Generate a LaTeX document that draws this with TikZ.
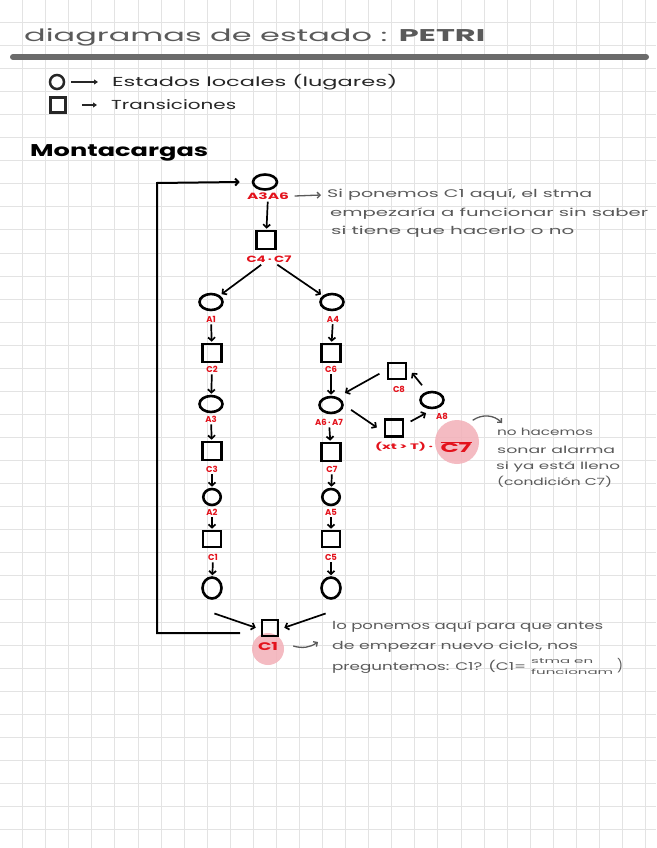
\documentclass[tikz,border=0pt]{standalone}
\usepackage{fontspec}
\setmainfont{Poppins}
\usepackage{graphicx}
\usetikzlibrary{arrows.meta,shapes.geometric}
\definecolor{gridc}{HTML}{E3E3E3}
\definecolor{ink}{HTML}{5A5A5A}
\definecolor{dark}{HTML}{262626}
\definecolor{redl}{HTML}{E3121C}
\definecolor{pinkh}{HTML}{F3B0B8}
\newcommand{\hw}[2]{\resizebox{#1}{\height}{#2}}
\begin{document}
\begin{tikzpicture}[x=1pt,y=-1pt,
  place/.style={draw, ellipse, line width=2.6, minimum width=23, minimum height=16, inner sep=0},
  trans/.style={draw, rectangle, line width=2.6, minimum width=19, minimum height=18, inner sep=0},
  lab/.style={text=redl, font=\bfseries\fontsize{8.5}{9}\selectfont, inner sep=0.5},
  arr/.style={-{Straight Barb[length=3.2pt,width=7pt]}, line width=1.7, shorten <=1.5, shorten >=1},
  garr/.style={ink, -{Straight Barb[length=3pt,width=6pt]}, line width=1.3},
  note/.style={text=ink, anchor=west, inner sep=0, font=\fontsize{11}{12}\selectfont},
  hl/.style={circle, fill=pinkh, fill opacity=0.85, inner sep=0}
]
\useasboundingbox (0,0) rectangle (656,848);
\fill[white] (0,0) rectangle (656,848);
% grid
\foreach \k in {0,...,27} \draw[gridc, line width=1] ({22.7+23.07*\k},0) -- ({22.7+23.07*\k},848);
\foreach \k in {0,...,35} \draw[gridc, line width=1] (0,{22.3+23.07*\k}) -- (656,{22.3+23.07*\k});

% title
\node[anchor=west, inner sep=0, text=ink] (title) at (24,37) {\hw{461pt}{\fontsize{17}{20}\selectfont diagramas de estado : \textbf{PETRI}}};
\coordinate (ulA) at (13,57);
\coordinate (ulB) at (646,57);
\draw[ink!90, line width=6, line cap=round] (ulA) -- (ulB);

% legend
\node[draw=dark, circle, line width=2.5, minimum size=14, inner sep=0] (lgc) at (57,82) {};
\node[draw=dark, rectangle, line width=2.5, minimum width=15, minimum height=15, inner sep=0] (lgs) at (58,105) {};
\node[anchor=west, inner sep=0, text=dark] (lgt1) at (112,82) {\hw{285pt}{\fontsize{13}{15}\selectfont Estados locales (lugares)}};
\node[anchor=west, inner sep=0, text=dark] (lgt2) at (111,105) {\hw{125pt}{\fontsize{13}{15}\selectfont Transiciones}};
\draw[dark, line width=1.6, -{Triangle[length=4pt,width=5pt]}, shorten <=6, shorten >=14] (lgc) -- (lgt1.west);
\draw[dark, line width=1.6, -{Triangle[length=4pt,width=5pt]}, shorten <=15, shorten >=14] (lgs) -- (lgs -| lgt2.west);

% section heading
\node[anchor=west, inner sep=0, text=black] (mont) at (30,153) {\hw{178pt}{\fontsize{17}{19}\selectfont\bfseries Montacargas}};

% top
\node[place, minimum width=24, minimum height=15] (p0) at (265,182) {};
\node[lab] (l0) at (268,196) {\hw{42pt}{\fontsize{9}{10}\selectfont\bfseries A3A6}};
\node[trans] (t0) at (266,240) {};
\node[lab] (lt0) at (269,259) {\hw{45pt}{\fontsize{9}{10}\selectfont\bfseries C4\,·\,C7}};
\draw[arr] (l0) -- (t0);

% left column
\node[place] (pL1) at (211,302) {};
\node[lab] (lL1) at (211,319) {A1};
\node[trans] (tL1) at (212,353) {};
\node[lab] (ltL1) at (212,369) {C2};
\node[place] (pL2) at (211,404) {};
\node[lab] (lL2) at (211,419) {A3};
\node[trans] (tL2) at (212,451) {};
\node[lab] (ltL2) at (212,469) {C3};
\node[place, minimum width=17.5, minimum height=16] (pL3) at (212,497) {};
\node[lab] (lL3) at (212,512) {A2};
\node[trans, minimum width=18, minimum height=16] (tL3) at (212,539) {};
\node[lab] (ltL3) at (213,557) {C1};
\node[place, minimum width=19, minimum height=21] (pL4) at (212,588) {};

% right column
\node[place] (pR1) at (332,302) {};
\node[lab] (lR1) at (333,319) {A4};
\node[trans] (tR1) at (331,353) {};
\node[lab] (ltR1) at (331,369) {C6};
\node[place] (pR2) at (331,405) {};
\node[lab] (lR2) at (329,422) {A6\,·\,A7};
\node[trans] (tR2) at (331,452) {};
\node[lab] (ltR2) at (332,469) {C7};
\node[place, minimum width=17.5, minimum height=16] (pR3) at (331,497) {};
\node[lab] (lR3) at (331,512) {A5};
\node[trans, minimum width=18, minimum height=16] (tR3) at (331,539) {};
\node[lab] (ltR3) at (331,557) {C5};
\node[place, minimum width=19, minimum height=21] (pR4) at (331,588) {};

% branch arrows
\draw[arr, shorten <=3, shorten >=2] (lt0) -- (pL1);
\draw[arr, shorten <=3, shorten >=2] (lt0) -- (pR1);
\foreach \a/\b in {lL1/tL1, ltL1/pL2, lL2/tL2, ltL2/pL3, lL3/tL3, ltL3/pL4,
                   lR1/tR1, ltR1/pR2, lR2/tR2, ltR2/pR3, lR3/tR3, ltR3/pR4}
  \draw[arr] (\a) -- (\b);

% bottom transition
\node[hl, minimum size=32] (hlC1) at (268,649) {};
\node[trans, minimum width=16, minimum height=16] (tB) at (270,628) {};
\node[text=redl, inner sep=0] (lB) at (268,647) {\hw{20pt}{\fontsize{11}{12}\selectfont\bfseries C1}};
\draw[arr] ([shift={(1,25)}]pL4.center) -- ([xshift=-4]tB.west);
\draw[arr] ([shift={(-4,25)}]pR4.center) -- ([xshift=4]tB.east);

% loop back
\coordinate (lp0) at (240,633);
\coordinate (lp1) at (157,633);
\coordinate (lp2) at (157,183);
\draw[line width=2, -{Straight Barb[length=3.2pt,width=7pt]}] (lp0) -- (lp1) -- (lp2) -- ([xshift=-12]p0.west);

% right cluster
\node[trans, minimum width=18, minimum height=16] (tC8) at (397,371) {};
\node[lab] (lC8) at (399,389) {C8};
\node[place] (pA8) at (432,400) {};
\node[lab] (lA8) at (442,416) {A8};
\node[trans, minimum width=18, minimum height=17] (tX) at (394,428) {};
\node[hl, minimum size=44] (hlC7) at (457,442) {};
\node[text=redl, inner sep=0] (lX) at (404,447) {\hw{58pt}{\fontsize{8}{9}\selectfont\bfseries (xt\,>\,T)\,·}};
\node[text=redl, inner sep=0] (lC7) at (456,447) {\hw{31pt}{\fontsize{13}{14}\selectfont\bfseries$\overline{\mbox{C7}}$}};
\draw[arr] ([shift={(-6,2)}]tC8.west) -- ([shift={(4,-5)}]pR2.north east);
\draw[arr] ([shift={(0,-7)}]pA8.north west) -- ([shift={(4,1)}]tC8.east);
\draw[arr] ([shift={(6,4)}]pR2.east) -- ([xshift=-6]tX.west);
\draw[arr] ([shift={(5,4)}]tX.north east) -- ([shift={(4,6)}]pA8.south west);

% notes top
\node[note] (n1) at (327,195) {\hw{265pt}{Si ponemos C1 aquí, el stma}};
\node[note] (n2) at (330,214) {\hw{318pt}{empezaría a funcionar sin saber}};
\node[note] (n3) at (331,232) {\hw{243pt}{si tiene que hacerlo o no}};
\draw[garr] ([xshift=5]l0.east) -- ([xshift=-6]n1.west);

% notes right
\node[note] (r1) at (497,432) {\hw{96pt}{\fontsize{10}{11}\selectfont no hacemos}};
\node[note] (r2) at (497,450) {\hw{118pt}{\fontsize{10}{11}\selectfont sonar alarma}};
\node[note] (r3) at (496,467) {\hw{124pt}{\fontsize{10}{11}\selectfont si ya está lleno}};
\node[note] (r4) at (497,482) {\hw{115pt}{\fontsize{10}{11}\selectfont (condición C7)}};
\draw[garr] ([shift={(0,-6)}]hlC7.north east) to[bend left=40] ([shift={(5,-9)}]r1.west);

% notes bottom
\node[note] (b1) at (332,627) {\hw{271pt}{lo ponemos aquí para que antes}};
\node[note] (b2) at (332,647) {\hw{246pt}{de empezar nuevo ciclo, nos}};
\node[note] (b3) at (332,667) {\hw{194pt}{preguntemos: C1? (C1=}};
\node[note] (b4a) at (531,661) {\hw{62pt}{\fontsize{7}{7}\selectfont stma en}};
\node[note] (b4b) at (531,672) {\hw{82pt}{\fontsize{7}{7}\selectfont funcionam}};
\node[note] (b5) at (617,666) {\fontsize{13}{14}\selectfont )};
\draw[garr] ([xshift=9,yshift=3]hlC1.east) to[bend right=25] ([shift={(-14,-5)}]b2.west);
\end{tikzpicture}
\end{document}
